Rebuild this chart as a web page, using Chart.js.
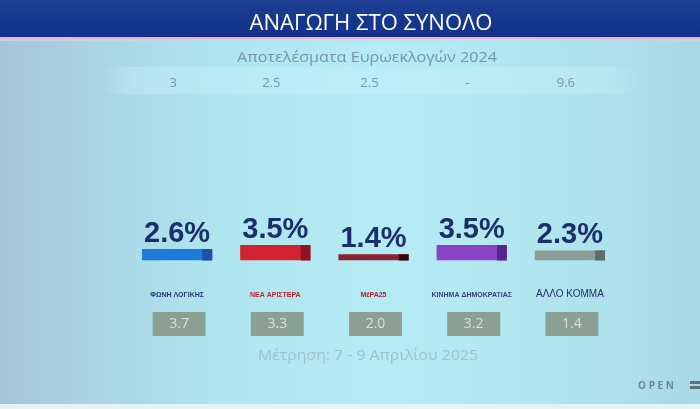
<!DOCTYPE html>
<html>
<head>
<meta charset="utf-8">
<script src="https://cdn.jsdelivr.net/npm/chart.js@4.4.1/dist/chart.umd.min.js"></script>
<style>
html,body{margin:0;padding:0;background:#b2e6ef;}
#wrap{width:700px;height:409px;position:relative;}
</style>
</head>
<body>
<div id="wrap"><canvas id="c" width="700" height="409"></canvas></div>
<script>
// ---- data ----
const titleText = 'ΑΝΑΓΩΓΗ ΣΤΟ ΣΥΝΟΛΟ';
const subtitleText = 'Αποτελέσματα Ευρωεκλογών 2024';
const footerText = 'Μέτρηση: 7 - 9 Απριλίου 2025';
const parties = ['ΦΩΝΗ ΛΟΓΙΚΗΣ', 'ΝΕΑ ΑΡΙΣΤΕΡΑ', 'ΜέΡΑ25', 'ΚΙΝΗΜΑ ΔΗΜΟΚΡΑΤΙΑΣ', 'ΑΛΛΟ ΚΟΜΜΑ'];
const pollValues = [2.6, 3.5, 1.4, 3.5, 2.3];
const euro2024 = ['3', '2.5', '2.5', '-', '9.6'];
const previousPoll = ['3.7', '3.3', '2.0', '3.2', '1.4'];

// ---- styles ----
const barColors = ['#1d7ad9', '#d3222f', '#8b1f33', '#8a42c6', '#8f9b97'];
const barEndColors = ['#1b52a3', '#8e1322', '#2c0c14', '#55278a', '#5f6b69'];
const logoColors = ['#223a78', '#c8202c', '#b0202a', '#3a3f86', '#1f2f66'];

const decor = {
  id: 'decor',
  beforeDraw(chart) {
    const ctx = chart.ctx;
    const W = chart.width, H = chart.height;
    ctx.save();
    // background
    let g = ctx.createLinearGradient(0, 0, W, 0);
    g.addColorStop(0, '#a6c4da');
    g.addColorStop(0.12, '#aad2e4');
    g.addColorStop(0.3, '#afe5ee');
    g.addColorStop(0.55, '#b5ecf4');
    g.addColorStop(0.85, '#afe3ec');
    g.addColorStop(1, '#a8d8e4');
    ctx.fillStyle = g;
    ctx.fillRect(0, 0, W, H);
    // bottom white strip
    ctx.fillStyle = '#e6f3f4';
    ctx.fillRect(0, 404, W, 5);
    // euro band
    let g3 = ctx.createLinearGradient(100, 0, 640, 0);
    g3.addColorStop(0, 'rgba(205,240,250,0)');
    g3.addColorStop(0.06, 'rgba(205,240,250,0.35)');
    g3.addColorStop(0.94, 'rgba(205,240,250,0.35)');
    g3.addColorStop(1, 'rgba(205,240,250,0)');
    ctx.fillStyle = g3;
    ctx.fillRect(100, 67, 540, 27);
    // header
    let gh = ctx.createLinearGradient(0, 0, 0, 38);
    gh.addColorStop(0, '#1c3f92');
    gh.addColorStop(1, '#12308a');
    ctx.fillStyle = gh;
    ctx.fillRect(0, 0, W, 38);
    ctx.fillStyle = '#e7b3cc';
    ctx.fillRect(0, 37, W, 2);
    ctx.fillStyle = 'rgba(200,215,235,0.7)';
    ctx.fillRect(0, 39, W, 2);
    // title
    ctx.fillStyle = '#ffffff';
    ctx.font = '21px "Open Sans"';
    ctx.textAlign = 'center';
    ctx.textBaseline = 'alphabetic';
    const tw = ctx.measureText(titleText).width;
    ctx.save();
    ctx.translate(371, 30);
    ctx.scale(243 / tw, 1);
    ctx.fillText(titleText, 0, 0);
    ctx.restore();
    // subtitle
    ctx.fillStyle = '#7594a8';
    ctx.font = '14px "Open Sans"';
    const sw = ctx.measureText(subtitleText).width;
    ctx.save();
    ctx.translate(367, 62);
    ctx.scale(260 / sw, 1);
    ctx.fillText(subtitleText, 0, 0);
    ctx.restore();
    // footer
    ctx.fillStyle = '#a3bfcc';
    ctx.font = '15px "Open Sans"';
    const fw = ctx.measureText(footerText).width;
    ctx.save();
    ctx.translate(368, 360);
    ctx.scale(220 / fw, 1);
    ctx.fillText(footerText, 0, 0);
    ctx.restore();
    // OPEN logo
    ctx.fillStyle = '#6f8592';
    ctx.font = 'bold 10px "Open Sans"';
    ctx.fillText('O P E N', 656, 389);
    ctx.fillStyle = '#5d6f7a';
    ctx.fillRect(690, 381, 10, 3);
    ctx.fillRect(690, 386, 10, 3);
    ctx.restore();
  },
  afterDatasetsDraw(chart) {
    const ctx = chart.ctx;
    const meta = chart.getDatasetMeta(0);
    ctx.save();
    meta.data.forEach((bar, i) => {
      const right = bar.x + bar.width / 2;
      const top = Math.min(bar.y, bar.base);
      const h = Math.abs(bar.base - bar.y);
      // dark end cap
      const capW = bar.width * 0.14;
      ctx.fillStyle = barEndColors[i];
      ctx.fillRect(right - capW, top, capW, h);
      // percentage label
      ctx.fillStyle = '#1c2d6c';
      ctx.font = 'bold 29px "Liberation Sans"';
      ctx.textAlign = 'center';
      ctx.textBaseline = 'alphabetic';
      ctx.fillText(pollValues[i].toFixed(1) + '%', bar.x, top - 7);
      // euro 2024 value
      ctx.fillStyle = '#7b98ab';
      ctx.font = '13px "Open Sans"';
      ctx.fillText(euro2024[i], bar.x - 4, 87);
      // party label (logo row)
      ctx.fillStyle = logoColors[i];
      if (i === 4) {
        ctx.font = '10px "Liberation Sans"';
      } else {
        ctx.font = 'bold 7px "Liberation Sans"';
      }
      ctx.fillText(parties[i], bar.x, 297);
      // previous poll box
      const bw = 53, bh = 24;
      ctx.fillStyle = '#8c9f93';
      ctx.fillRect(bar.x + 2 - bw / 2, 312, bw, bh);
      ctx.fillStyle = '#d7e2da';
      ctx.font = '14px "Open Sans"';
      ctx.textBaseline = 'middle';
      ctx.fillText(previousPoll[i], bar.x + 2, 324.5);
    });
    ctx.restore();
  }
};

new Chart(document.getElementById('c'), {
  type: 'bar',
  data: {
    labels: parties,
    datasets: [{
      data: pollValues,
      backgroundColor: barColors,
      borderWidth: 0,
      barPercentage: 0.715,
      categoryPercentage: 1
    }]
  },
  options: {
    responsive: false,
    animation: false,
    layout: { padding: { left: 128, right: 81, top: 216.5, bottom: 148.5 } },
    plugins: { legend: { display: false }, tooltip: { enabled: false }, title: { display: false } },
    scales: {
      x: { display: false },
      y: { display: false, min: 0, max: 10 }
    }
  },
  plugins: [decor]
});
</script>
</body>
</html>
